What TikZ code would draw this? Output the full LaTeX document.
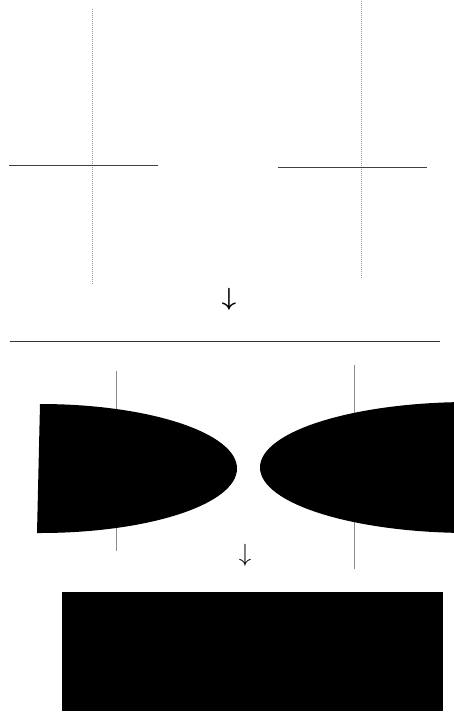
\documentclass[tikz,border=0pt]{standalone}
\begin{document}
\begin{tikzpicture}[x=1pt,y=-1pt,
  axisdash/.style={draw=gray!80,line width=0.9pt,dash pattern=on 1.2pt off 0.8pt},
  axisline/.style={draw=black!75,line width=1pt},
  guide/.style={draw=gray!90,line width=0.8pt},
  blob/.style={fill=black,draw=none},
  arrowglyph/.style={inner sep=0pt,font=\fontsize{32}{34}\selectfont}]
\useasboundingbox (0,0) rectangle (454,715);
\clip (0,0) rectangle (454,715);
% top section
\coordinate (lvt) at (92,9);
\coordinate (lvb) at (92,284);
\coordinate (lhl) at (9,165);
\coordinate (lhr) at (158,165);
\coordinate (rvt) at (361,1);
\coordinate (rvb) at (361,278);
\coordinate (rhl) at (278,167);
\coordinate (rhr) at (427,167);
\draw[axisdash] (lvt) -- (lvb);
\draw[axisdash] (rvt) -- (rvb);
\draw[axisline] (lhl) -- (lhr);
\draw[axisline] (rhl) -- (rhr);
\node[arrowglyph] (arr1) at (229,299) {\mbox{\mathversion{bold}$\downarrow$}};
% separator
\coordinate (sepl) at (10,341);
\coordinate (sepr) at (440,341);
\draw[line width=1pt,black!80] (sepl) -- (sepr);
% middle section
\coordinate (mlt) at (116,371);
\coordinate (mlb) at (116,551);
\coordinate (mrt) at (354,365);
\coordinate (mrb) at (354,569);
\draw[guide] (mlt) -- (mlb);
\draw[guide] (mrt) -- (mrb);
\path[blob] (40,404) arc[start angle=90,end angle=-90,x radius=197,y radius=-64.5] -- (37,533) -- cycle;
\path[blob] (470,467.5) ellipse[x radius=210,y radius=65.5];
\node[arrowglyph,font=\fontsize{30}{32}\selectfont] (arr2) at (245,555) {$\downarrow$};
% bottom rectangle
\node[blob,minimum width=381,minimum height=119,inner sep=0pt,anchor=north west] (res) at (62,592) {};
\end{tikzpicture}
\end{document}
